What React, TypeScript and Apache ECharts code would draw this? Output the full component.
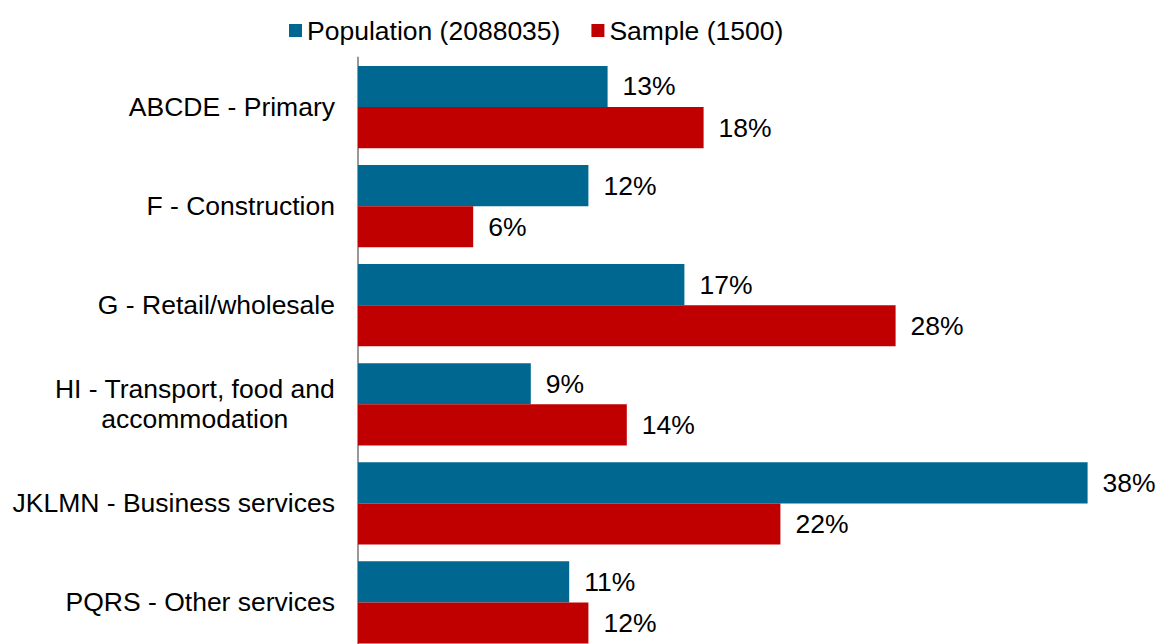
import React, { useEffect, useRef } from "react";
import * as echarts from "echarts";

const categories = [
  "ABCDE - Primary",
  "F - Construction",
  "G - Retail/wholesale",
  "HI - Transport, food and\naccommodation",
  "JKLMN - Business services",
  "PQRS - Other services",
];
const populationName = "Population (2088035)";
const sampleName = "Sample (1500)";
const populationValues = [13, 12, 17, 9, 38, 11];
const sampleValues = [18, 6, 28, 14, 22, 12];

const FONT = "'Liberation Sans', Arial, sans-serif";
const FS = 26.5;

export default function App() {
  const ref = useRef<HTMLDivElement>(null);
  useEffect(() => {
    if (!ref.current) return;
    const chart = echarts.init(ref.current, null, { renderer: "svg" });
    const label = {
      show: true,
      position: "right",
      distance: 15,
      formatter: "{c}%",
      color: "#000",
      fontSize: FS,
      fontFamily: FONT,
    };
    chart.setOption({
      animation: false,
      backgroundColor: "#fff",
      textStyle: { fontFamily: FONT },
      legend: {
        top: 12,
        left: 284,
        itemWidth: 13,
        itemHeight: 13,
        itemGap: 31,
        icon: "rect",
        textStyle: { fontSize: FS, color: "#000", fontFamily: FONT },
        data: [populationName, sampleName],
      },
      grid: { left: 358, right: 32, top: 57.5, bottom: 8, containLabel: false },
      xAxis: {
        type: "value",
        min: 0,
        max: 40,
        show: false,
      },
      yAxis: {
        type: "category",
        inverse: true,
        data: categories,
        axisLine: { show: true, lineStyle: { color: "#999", width: 2 } },
        axisTick: { show: false },
        axisLabel: {
          margin: 23,
          fontSize: FS,
          lineHeight: 30,
          color: "#000",
          fontFamily: FONT,
          align: "right",
          formatter: (v: string) =>
            v.indexOf("\n") >= 0
              ? v
                  .split("\n")
                  .map((s) => "{c|" + s + "}")
                  .join("\n")
              : v,
          rich: {
            c: {
              align: "center",
              fontSize: FS,
              lineHeight: 30,
              color: "#000",
              fontFamily: FONT,
            },
          },
        },
      },
      series: [
        {
          name: populationName,
          type: "bar",
          data: populationValues,
          barGap: "0%",
          barCategoryGap: "17%",
          itemStyle: { color: "#006890" },
          label,
        },
        {
          name: sampleName,
          type: "bar",
          data: sampleValues,
          barGap: "0%",
          barCategoryGap: "17%",
          itemStyle: { color: "#C00000" },
          label,
        },
      ],
    });
    return () => chart.dispose();
  }, []);
  return (
    <div
      style={{
        position: "absolute",
        left: 0,
        top: 0,
        width: 1158,
        height: 644,
        overflow: "hidden",
        background: "#fff",
      }}
    >
      <div ref={ref} style={{ width: 1158, height: 660 }} />
    </div>
  );
}
